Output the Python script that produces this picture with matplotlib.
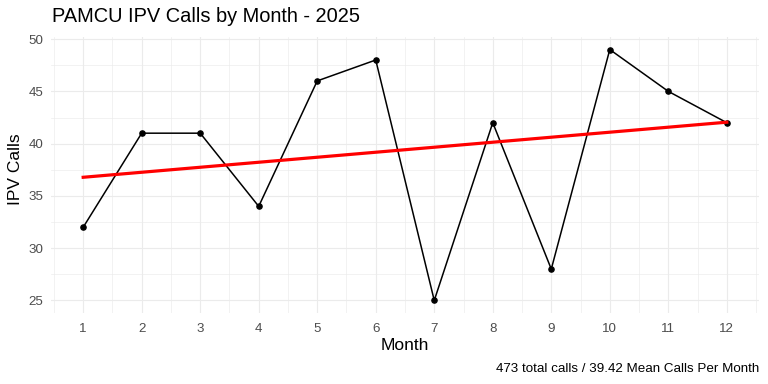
import numpy as np
import matplotlib
matplotlib.use("Agg")
import matplotlib.pyplot as plt
from matplotlib.ticker import MultipleLocator

plt.rcParams['font.family'] = ['Liberation Sans', 'DejaVu Sans']

months = [1, 2, 3, 4, 5, 6, 7, 8, 9, 10, 11, 12]
calls = [32, 41, 41, 34, 46, 48, 25, 42, 28, 49, 45, 42]
title = "PAMCU IPV Calls by Month - 2025"
caption = "473 total calls / 39.42 Mean Calls Per Month"

fig = plt.figure(figsize=(7.68, 3.84), dpi=100)
W, H = 768, 384
ax = fig.add_axes([51 / W, (H - 313) / H, (759 - 51) / W, (313 - 37) / H])
for s in ax.spines.values():
    s.set_visible(False)

x = np.array(months, dtype=float)
y = np.array(calls, dtype=float)
slope, intercept = np.polyfit(x, y, 1)
xf = np.array([x.min(), x.max()])

ax.plot(x, y, color='black', lw=1.1, zorder=3)
ax.scatter(x, y, color='black', s=14, zorder=4)
ax.plot(xf, slope * xf + intercept, color='#FF0000', lw=2.3, zorder=5)

ax.set_xlim(0.45, 12.55)
ax.set_ylim(23.8, 50.2)
ax.xaxis.set_major_locator(MultipleLocator(1))
ax.xaxis.set_minor_locator(MultipleLocator(0.5))
ax.yaxis.set_major_locator(MultipleLocator(5))
ax.yaxis.set_minor_locator(MultipleLocator(2.5))
ax.grid(which='major', color='#EBEBEB', lw=0.8, zorder=0)
ax.grid(which='minor', color='#EBEBEB', lw=0.45, zorder=0)
ax.set_axisbelow(True)
ax.tick_params(which='both', length=0, labelsize=9.6, labelcolor='#4D4D4D')
ax.tick_params(axis='x', pad=7)
ax.tick_params(axis='y', pad=5.5)

ax.set_xlabel("")
ax.set_ylabel("")
fig.text(405 / W, 1 - 345 / H, "Month", fontsize=12.5, ha='center', va='center')
fig.text(15 / W, 1 - 169 / H, "IPV Calls", fontsize=12.5, ha='center', va='center',
         rotation=90)

fig.text(52 / W, 1 - 16.5 / H, title, fontsize=14.4, ha='left', va='center')
fig.text(759 / W, 1 - 368.5 / H, caption, fontsize=9.6, ha='right', va='center')

fig.savefig("out.png", dpi=100)
